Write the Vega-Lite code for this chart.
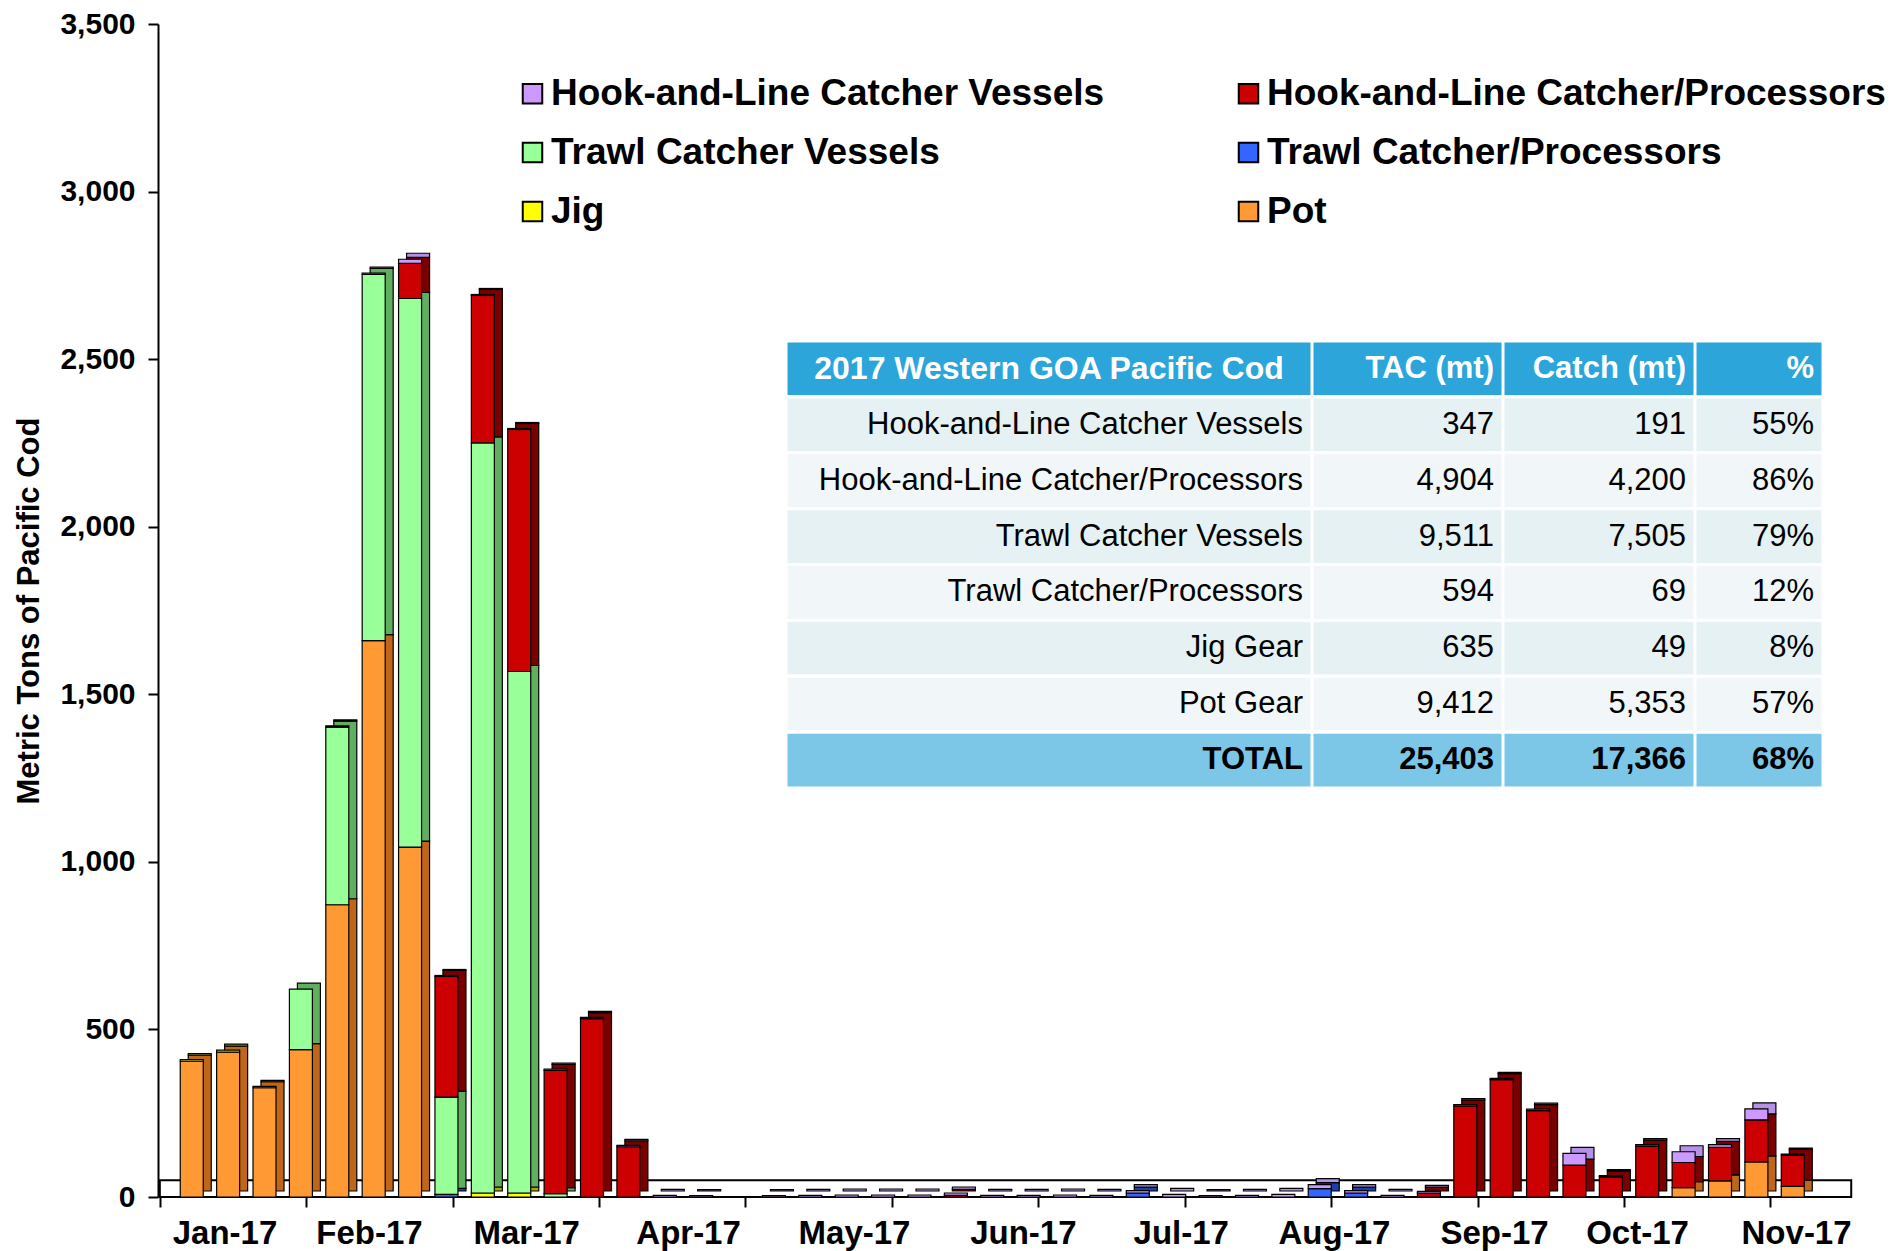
{
  "$schema": "https://vega.github.io/schema/vega-lite/v6.json",
  "width": 1702,
  "height": 1173,
  "padding": {"left": 158, "top": 24, "right": 35, "bottom": 54},
  "autosize": {"type": "none"},
  "background": "white",
  "config": {
    "font": "Liberation Sans",
    "view": {"stroke": null},
    "axis": {
      "labelFont": "Liberation Sans",
      "titleFont": "Liberation Sans",
      "labelColor": "#000000",
      "titleColor": "#000000",
      "labelFontWeight": "bold",
      "titleFontWeight": "bold",
      "domainColor": "#000000",
      "tickColor": "#000000",
      "grid": false
    }
  },
  "datasets": {
    "weeks": [
      {"week": 1, "Pot": 405, "Jig": 5},
      {"week": 2, "Pot": 432, "Jig": 6},
      {"week": 3, "Pot": 326, "Trawl Catcher Vessels": 4},
      {"week": 4, "Pot": 440, "Trawl Catcher Vessels": 180},
      {"week": 5, "Pot": 872, "Trawl Catcher Vessels": 530, "Hook-and-Line Catcher Vessels": 4},
      {"week": 6, "Pot": 1660, "Trawl Catcher Vessels": 1093, "Hook-and-Line Catcher Vessels": 4},
      {"week": 7, "Pot": 1044, "Trawl Catcher Vessels": 1637, "Hook-and-Line Catcher/Processors": 105, "Hook-and-Line Catcher Vessels": 12},
      {"week": 8, "Trawl Catcher/Processors": 8, "Trawl Catcher Vessels": 290, "Hook-and-Line Catcher/Processors": 360, "Hook-and-Line Catcher Vessels": 3},
      {"week": 9, "Jig": 12, "Trawl Catcher Vessels": 2238, "Hook-and-Line Catcher/Processors": 440, "Hook-and-Line Catcher Vessels": 3},
      {"week": 10, "Jig": 12, "Trawl Catcher Vessels": 1556, "Hook-and-Line Catcher/Processors": 722, "Hook-and-Line Catcher Vessels": 3},
      {"week": 11, "Trawl Catcher Vessels": 10, "Hook-and-Line Catcher/Processors": 368, "Hook-and-Line Catcher Vessels": 4},
      {"week": 12, "Hook-and-Line Catcher/Processors": 532, "Hook-and-Line Catcher Vessels": 4},
      {"week": 13, "Hook-and-Line Catcher/Processors": 150, "Hook-and-Line Catcher Vessels": 4},
      {"week": 14, "Hook-and-Line Catcher Vessels": 5},
      {"week": 15, "Hook-and-Line Catcher Vessels": 4},
      {"week": 16},
      {"week": 17, "Hook-and-Line Catcher Vessels": 4},
      {"week": 18, "Hook-and-Line Catcher Vessels": 5},
      {"week": 19, "Hook-and-Line Catcher Vessels": 6},
      {"week": 20, "Hook-and-Line Catcher Vessels": 6},
      {"week": 21, "Hook-and-Line Catcher Vessels": 6},
      {"week": 22, "Hook-and-Line Catcher/Processors": 5, "Hook-and-Line Catcher Vessels": 7},
      {"week": 23, "Hook-and-Line Catcher Vessels": 5},
      {"week": 24, "Hook-and-Line Catcher Vessels": 5},
      {"week": 25, "Hook-and-Line Catcher Vessels": 6},
      {"week": 26, "Hook-and-Line Catcher Vessels": 5},
      {"week": 27, "Trawl Catcher/Processors": 12, "Hook-and-Line Catcher Vessels": 7},
      {"week": 28, "Hook-and-Line Catcher Vessels": 8},
      {"week": 29, "Hook-and-Line Catcher Vessels": 4},
      {"week": 30, "Hook-and-Line Catcher Vessels": 5},
      {"week": 31, "Hook-and-Line Catcher Vessels": 8},
      {"week": 32, "Trawl Catcher/Processors": 25, "Hook-and-Line Catcher Vessels": 12},
      {"week": 33, "Trawl Catcher/Processors": 12, "Hook-and-Line Catcher Vessels": 7},
      {"week": 34, "Hook-and-Line Catcher Vessels": 5},
      {"week": 35, "Hook-and-Line Catcher/Processors": 12, "Hook-and-Line Catcher Vessels": 5},
      {"week": 36, "Hook-and-Line Catcher/Processors": 272, "Hook-and-Line Catcher Vessels": 4},
      {"week": 37, "Hook-and-Line Catcher/Processors": 350, "Hook-and-Line Catcher Vessels": 4},
      {"week": 38, "Hook-and-Line Catcher/Processors": 258, "Hook-and-Line Catcher Vessels": 4},
      {"week": 39, "Hook-and-Line Catcher/Processors": 95, "Hook-and-Line Catcher Vessels": 35},
      {"week": 40, "Hook-and-Line Catcher/Processors": 60, "Hook-and-Line Catcher Vessels": 4},
      {"week": 41, "Hook-and-Line Catcher/Processors": 152, "Hook-and-Line Catcher Vessels": 4},
      {"week": 42, "Pot": 28, "Hook-and-Line Catcher/Processors": 75, "Hook-and-Line Catcher Vessels": 32},
      {"week": 43, "Pot": 48, "Hook-and-Line Catcher/Processors": 100, "Hook-and-Line Catcher Vessels": 8},
      {"week": 44, "Pot": 105, "Hook-and-Line Catcher/Processors": 125, "Hook-and-Line Catcher Vessels": 33},
      {"week": 45, "Pot": 32, "Hook-and-Line Catcher/Processors": 92, "Hook-and-Line Catcher Vessels": 4}
    ],
    "table": [
      {"row": 0, "col": 4, "label": "%"},
      {"row": 0, "col": 3, "label": "Catch (mt)"},
      {"row": 0, "col": 2, "label": "TAC (mt)"},
      {"row": 0, "col": 1, "label": "2017 Western GOA Pacific Cod"},
      {"row": 1, "col": 4, "label": "55%"},
      {"row": 1, "col": 3, "label": "191"},
      {"row": 1, "col": 2, "label": "347"},
      {"row": 1, "col": 1, "label": "Hook-and-Line Catcher Vessels"},
      {"row": 2, "col": 4, "label": "86%"},
      {"row": 2, "col": 3, "label": "4,200"},
      {"row": 2, "col": 2, "label": "4,904"},
      {"row": 2, "col": 1, "label": "Hook-and-Line Catcher/Processors"},
      {"row": 3, "col": 4, "label": "79%"},
      {"row": 3, "col": 3, "label": "7,505"},
      {"row": 3, "col": 2, "label": "9,511"},
      {"row": 3, "col": 1, "label": "Trawl Catcher Vessels"},
      {"row": 4, "col": 4, "label": "12%"},
      {"row": 4, "col": 3, "label": "69"},
      {"row": 4, "col": 2, "label": "594"},
      {"row": 4, "col": 1, "label": "Trawl Catcher/Processors"},
      {"row": 5, "col": 4, "label": "8%"},
      {"row": 5, "col": 3, "label": "49"},
      {"row": 5, "col": 2, "label": "635"},
      {"row": 5, "col": 1, "label": "Jig Gear"},
      {"row": 6, "col": 4, "label": "57%"},
      {"row": 6, "col": 3, "label": "5,353"},
      {"row": 6, "col": 2, "label": "9,412"},
      {"row": 6, "col": 1, "label": "Pot Gear"},
      {"row": 7, "col": 4, "label": "68%"},
      {"row": 7, "col": 3, "label": "17,366"},
      {"row": 7, "col": 2, "label": "25,403"},
      {"row": 7, "col": 1, "label": "TOTAL"}
    ]
  },
  "layer": [
    {
      "data": {"values": [{}]},
      "mark": {"type": "rect", "fill": "white", "stroke": "black", "strokeWidth": 2},
      "encoding": {
        "x": {
          "datum": 0.26, "type": "quantitative",
          "scale": {"domain": [0.21, 46.71], "nice": false, "zero": false},
          "axis": {"orient": "bottom", "values": [0.26, 4.26, 8.26, 12.26, 16.26, 20.26, 24.26, 28.26, 32.26, 36.26, 40.26, 44.26], "labels": false, "domain": false, "ticks": true, "tickSize": 10, "tickWidth": 2, "title": null}
        },
        "x2": {"datum": 46.47},
        "y": {
          "datum": 0, "type": "quantitative",
          "scale": {"domain": [0, 3500], "nice": false},
          "axis": {"values": [0, 500, 1000, 1500, 2000, 2500, 3000, 3500], "format": ",.0f", "title": "Metric Tons of Pacific Cod", "titleFontSize": 31, "titlePadding": 14, "labelFontSize": 30, "labelPadding": 13, "tickSize": 10, "tickWidth": 2, "domainWidth": 2}
        },
        "y2": {"datum": 50}
      }
    },
    {
      "data": {"name": "weeks"},
      "transform": [
        {"fold": ["Pot", "Jig", "Trawl Catcher/Processors", "Trawl Catcher Vessels", "Hook-and-Line Catcher/Processors", "Hook-and-Line Catcher Vessels"], "as": ["gear", "mt"]},
        {"filter": "datum.mt > 0"},
        {"window": [{"op": "row_number", "as": "stackIndex"}], "groupby": ["week"]}
      ],
      "mark": {"type": "bar", "width": 23, "xOffset": 8, "yOffset": -6, "stroke": "black", "strokeWidth": 1.2},
      "encoding": {
        "x": {"field": "week", "type": "quantitative", "scale": {"domain": [0.21, 46.71], "nice": false, "zero": false}, "axis": null},
        "y": {"field": "mt", "type": "quantitative", "stack": "zero", "scale": {"domain": [0, 3500], "nice": false}, "axis": null},
        "fill": {
          "field": "gear", "type": "nominal",
          "scale": {
            "domain": ["Pot", "Jig", "Trawl Catcher/Processors", "Trawl Catcher Vessels", "Hook-and-Line Catcher/Processors", "Hook-and-Line Catcher Vessels"],
            "range": ["#C0661A", "#A8A800", "#1F3FA8", "#5FAF5F", "#7A0000", "#B592E6"]
          },
          "legend": null
        },
        "order": {"field": "stackIndex", "type": "quantitative"}
      }
    },
    {
      "data": {"name": "weeks"},
      "transform": [
        {"fold": ["Pot", "Jig", "Trawl Catcher/Processors", "Trawl Catcher Vessels", "Hook-and-Line Catcher/Processors", "Hook-and-Line Catcher Vessels"], "as": ["gear", "mt"]},
        {"filter": "datum.mt > 0"},
        {"window": [{"op": "row_number", "as": "stackIndex"}], "groupby": ["week"]}
      ],
      "mark": {"type": "bar", "width": 23, "stroke": "black", "strokeWidth": 1.2},
      "encoding": {
        "x": {
          "field": "week", "type": "quantitative",
          "scale": {"domain": [0.21, 46.71], "nice": false, "zero": false},
          "axis": {
            "orient": "bottom",
            "values": [1.9, 5.87, 10.19, 14.64, 19.2, 23.84, 28.18, 32.39, 36.79, 40.72, 45.09],
            "labelExpr": "datum.value < 4 ? 'Jan-17' : datum.value < 8 ? 'Feb-17' : datum.value < 12 ? 'Mar-17' : datum.value < 17 ? 'Apr-17' : datum.value < 21 ? 'May-17' : datum.value < 26 ? 'Jun-17' : datum.value < 30 ? 'Jul-17' : datum.value < 34 ? 'Aug-17' : datum.value < 38 ? 'Sep-17' : datum.value < 43 ? 'Oct-17' : 'Nov-17'",
            "ticks": false, "domain": false, "labelFontSize": 33, "labelPadding": 20,
            "labelOverlap": false, "labelFlush": false, "labelBound": false, "title": null
          }
        },
        "y": {"field": "mt", "type": "quantitative", "stack": "zero", "scale": {"domain": [0, 3500], "nice": false}, "axis": null},
        "color": {
          "field": "gear", "type": "nominal",
          "scale": {
            "domain": ["Hook-and-Line Catcher Vessels", "Trawl Catcher Vessels", "Jig", "Hook-and-Line Catcher/Processors", "Trawl Catcher/Processors", "Pot"],
            "range": ["#CC99FF", "#99FF99", "#FFFF00", "#CC0000", "#3366FF", "#FF9933"]
          },
          "legend": {
            "orient": "none", "legendX": 356, "legendY": 51, "columns": 2, "title": null,
            "labelFont": "Liberation Sans", "labelFontSize": 37, "labelFontWeight": "bold", "labelColor": "#000000",
            "symbolType": "square", "symbolSize": 380, "symbolStrokeColor": "#000000", "symbolStrokeWidth": 2, "symbolOpacity": 1,
            "labelOffset": 0, "columnPadding": 125, "rowPadding": 21, "labelLimit": 900, "padding": 0
          }
        },
        "order": {"field": "stackIndex", "type": "quantitative"}
      }
    },
    {
      "data": {"name": "table"},
      "encoding": {
        "y": {"field": "row", "type": "ordinal", "scale": {"range": [317, 764], "paddingInner": 0, "paddingOuter": 0}, "axis": null}
      },
      "layer": [
        {
          "mark": {"type": "bar", "stroke": "white", "strokeWidth": 3},
          "encoding": {
            "x": {"field": "col", "type": "quantitative", "stack": null, "scale": {"domain": [0, 1, 2, 3, 4], "range": [628, 1154, 1345, 1537, 1665], "nice": false, "zero": false}, "axis": null},
            "color": {
              "condition": [
                {"test": "datum.row == 0", "value": "#2BA5DA"},
                {"test": "datum.row == 7", "value": "#7CC7E8"},
                {"test": "datum.row % 2 == 1", "value": "#E5F1F2"}
              ],
              "value": "#F1F6F8"
            }
          }
        },
        {
          "transform": [{"filter": "datum.row > 0 && datum.row < 7"}],
          "mark": {"type": "text", "align": "right", "baseline": "middle", "dx": -9, "fontSize": 31, "font": "Liberation Sans", "color": "#000000"},
          "encoding": {
            "x": {"field": "col", "type": "quantitative"},
            "text": {"field": "label"}
          }
        },
        {
          "transform": [{"filter": "(datum.row == 0 && datum.col > 1) || datum.row == 7"}],
          "mark": {"type": "text", "align": "right", "baseline": "middle", "dx": -9, "fontSize": 31, "fontWeight": "bold", "font": "Liberation Sans"},
          "encoding": {
            "x": {"field": "col", "type": "quantitative"},
            "text": {"field": "label"},
            "color": {"condition": {"test": "datum.row == 0", "value": "#FFFFFF"}, "value": "#000000"}
          }
        },
        {
          "transform": [{"filter": "datum.row == 0 && datum.col == 1"}],
          "mark": {"type": "text", "align": "center", "baseline": "middle", "fontSize": 32, "fontWeight": "bold", "font": "Liberation Sans", "color": "#FFFFFF"},
          "encoding": {
            "x": {"datum": 0.5, "type": "quantitative"},
            "text": {"field": "label"}
          }
        }
      ]
    }
  ],
  "resolve": {"scale": {"x": "independent", "y": "independent"}, "axis": {"x": "independent", "y": "independent"}}
}
